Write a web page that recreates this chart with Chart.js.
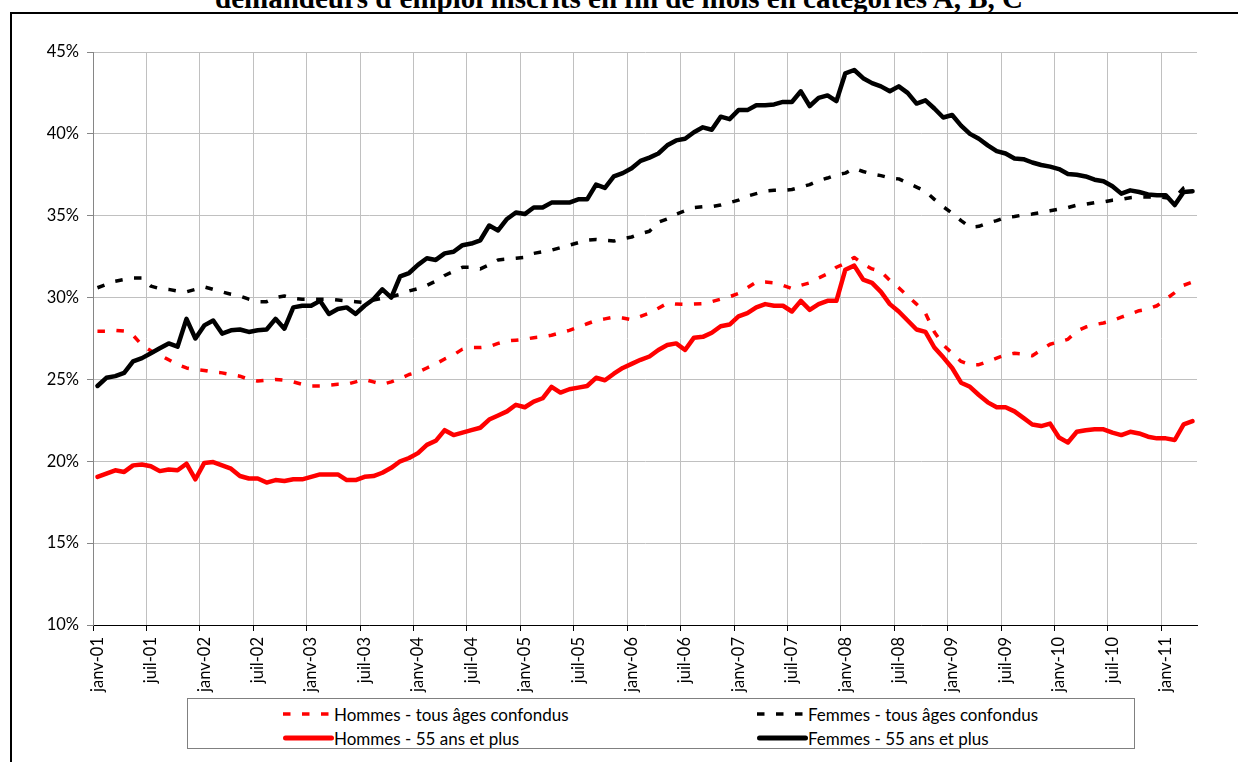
<!DOCTYPE html>
<html>
<head>
<meta charset="utf-8">
<script src="https://cdn.jsdelivr.net/npm/chart.js@4/dist/chart.umd.min.js"></script>
<style>
    body { margin: 0; background: #fff; overflow: hidden; }
    #wrap { position: relative; width: 1238px; height: 762px; overflow: hidden; }
    #title {
        position: absolute; left: 0; top: -16px; width: 1238px; text-align: center;
        font: bold 29px "Liberation Serif", "Times New Roman", serif; line-height: 29px; color: #000;
        white-space: nowrap;
    }
    #frame {
        position: absolute; left: 10px; top: 12px; width: 1400px; height: 900px;
        border-left: 2px solid #000; border-top: 2px solid #000;
    }
    #chart { position: absolute; left: 0; top: 0; }
    #legend {
        position: absolute; left: 187px; top: 698px; width: 946px; height: 49px;
        border: 1px solid #808080; background: #fff;
    }
    .item {
        position: absolute; display: flex; align-items: center; height: 20px;
        font: 17px Lato, sans-serif; color: #000; white-space: nowrap;
    }
    .item svg { display: block; margin-right: 0; }
</style>
</head>
<body>
<div id="wrap">
    <div id="frame"></div>
    <div id="title">demandeurs d'emploi inscrits en fin de mois en catégories A, B, C</div>
    <canvas id="chart" width="1238" height="762"></canvas>
    <div id="legend"></div>
</div>
<script>
const monthNames = ["janv", "févr", "mars", "avr", "mai", "juin", "juil", "août", "sept", "oct", "nov", "déc"];
const years = ["01", "02", "03", "04", "05", "06", "07", "08", "09", "10", "11"];
const monthCount = 124; // janv-01 .. avr-11

const yTicks = [10, 15, 20, 25, 30, 35, 40, 45];

const seriesNames = [
    "Hommes - tous âges confondus",
    "Femmes - tous âges confondus",
    "Hommes - 55 ans et plus",
    "Femmes - 55 ans et plus"
];

const hommesTous = [
    27.95, 27.95, 28.0, 27.95, 27.7, 27.1, 26.75, 26.5, 26.2, 25.9,
    25.7, 25.6, 25.55, 25.45, 25.4, 25.3, 25.2, 25.0, 24.9, 24.95,
    25.0, 24.95, 24.85, 24.7, 24.6, 24.6, 24.65, 24.7, 24.7, 24.85,
    25.0, 24.85, 24.7, 24.85, 25.05, 25.3, 25.45, 25.7, 25.95, 26.25,
    26.5, 26.85, 26.95, 26.95, 27.0, 27.2, 27.35, 27.4, 27.45, 27.55,
    27.6, 27.7, 27.85, 28.0, 28.2, 28.4, 28.6, 28.7, 28.8, 28.75,
    28.65, 28.85, 29.05, 29.35, 29.65, 29.6, 29.58, 29.6, 29.62, 29.75,
    29.9, 30.05, 30.25, 30.6, 30.95, 30.95, 30.9, 30.75, 30.55, 30.75,
    30.9, 31.2, 31.45, 31.85, 32.1, 32.45, 32.05, 31.75, 31.6, 31.05,
    30.6, 30.1, 29.6, 29.05, 27.9, 27.1, 26.6, 26.1, 25.9, 25.9,
    26.1, 26.3, 26.5, 26.6, 26.55, 26.45, 26.8, 27.15, 27.3, 27.45,
    27.95, 28.2, 28.35, 28.45, 28.6, 28.8, 29.0, 29.2, 29.3, 29.5,
    29.9, 30.3, 30.75, 30.95
];

const femmesTous = [
    30.6, 30.8, 31.0, 31.1, 31.2, 31.2, 30.7, 30.55, 30.5, 30.4,
    30.35, 30.5, 30.65, 30.5, 30.35, 30.2, 30.1, 29.9, 29.75, 29.75,
    30.0, 30.1, 29.95, 29.9, 29.9, 29.9, 29.9, 29.85, 29.8, 29.75,
    29.7, 29.85, 29.95, 30.05, 30.2, 30.4, 30.55, 30.75, 31.0, 31.35,
    31.6, 31.85, 31.85, 31.75, 32.0, 32.3, 32.35, 32.4, 32.45, 32.7,
    32.8, 32.9, 33.05, 33.2, 33.35, 33.5, 33.55, 33.5, 33.45, 33.6,
    33.7, 33.9, 34.05, 34.6, 34.8, 35.1, 35.3, 35.5, 35.55, 35.55,
    35.65, 35.8, 35.95, 36.2, 36.35, 36.5, 36.55, 36.55, 36.6, 36.75,
    36.9, 37.15, 37.3, 37.5, 37.6, 37.9, 37.7, 37.55, 37.45, 37.3,
    37.25, 37.0, 36.75, 36.5, 36.0, 35.55, 35.15, 34.7, 34.3, 34.35,
    34.55, 34.7, 34.9, 34.95, 35.05, 35.1, 35.2, 35.3, 35.4, 35.5,
    35.65, 35.7, 35.8, 35.85, 35.95, 36.0, 36.1, 36.15, 36.15, 36.15,
    36.1, 36.1, 36.7, 36.95
];

const hommes55 = [
    19.05, 19.25, 19.45, 19.35, 19.75, 19.8, 19.7, 19.4, 19.5, 19.45,
    19.85, 18.9, 19.9, 19.95, 19.75, 19.55, 19.1, 18.95, 18.95, 18.7,
    18.85, 18.8, 18.9, 18.9, 19.05, 19.2, 19.2, 19.2, 18.85, 18.85,
    19.05, 19.1, 19.3, 19.6, 20.0, 20.2, 20.5, 21.0, 21.25, 21.9,
    21.6, 21.75, 21.9, 22.05, 22.55, 22.8, 23.05, 23.45, 23.3, 23.65,
    23.85, 24.55, 24.2, 24.4, 24.5, 24.6, 25.1, 24.95, 25.35, 25.7,
    25.95, 26.2, 26.4, 26.8, 27.1, 27.2, 26.8, 27.55, 27.6, 27.85,
    28.25, 28.35, 28.85, 29.05, 29.4, 29.6, 29.5, 29.5, 29.15, 29.8,
    29.25, 29.6, 29.8, 29.8, 31.7, 31.95, 31.1, 30.9, 30.35, 29.6,
    29.15, 28.6, 28.05, 27.9, 26.95, 26.35, 25.7, 24.8, 24.55, 24.05,
    23.6, 23.3, 23.3, 23.05, 22.65, 22.25, 22.15, 22.3, 21.45, 21.15,
    21.8, 21.9, 21.95, 21.95, 21.75, 21.6, 21.8, 21.7, 21.5, 21.4,
    21.4, 21.3, 22.25, 22.45
];

const femmes55 = [
    24.6, 25.1, 25.2, 25.4, 26.1, 26.3, 26.6, 26.9, 27.2, 27.0,
    28.7, 27.5, 28.3, 28.6, 27.8, 28.0, 28.05, 27.9, 28.0, 28.05,
    28.7, 28.1, 29.4, 29.5, 29.5, 29.8, 29.0, 29.3, 29.4, 29.0,
    29.5, 29.9, 30.5, 30.0, 31.3, 31.5, 32.0, 32.4, 32.3, 32.7,
    32.8, 33.2, 33.3, 33.5, 34.4, 34.1, 34.8, 35.2, 35.1, 35.5,
    35.5, 35.8, 35.8, 35.8, 36.0, 36.0, 36.9, 36.7, 37.4, 37.6,
    37.9, 38.35, 38.55, 38.8, 39.3, 39.6, 39.7, 40.1, 40.4, 40.25,
    41.05, 40.9, 41.45, 41.45, 41.75, 41.75, 41.8, 41.95, 41.95, 42.6,
    41.7, 42.2, 42.35, 42.0, 43.7, 43.9, 43.4, 43.1, 42.9, 42.6,
    42.9, 42.5, 41.85, 42.05, 41.55, 41.0, 41.15, 40.5, 40.0, 39.7,
    39.3, 38.95, 38.8, 38.5, 38.45, 38.25, 38.1, 38.0, 37.85, 37.55,
    37.5, 37.4, 37.2, 37.1, 36.8, 36.35, 36.55, 36.45, 36.3, 36.25,
    36.25, 35.65, 36.45, 36.5
];

const monthLabels = [];
for (let i = 0; i < monthCount; i++) {
    monthLabels.push(monthNames[i % 12] + "-" + years[Math.floor(i / 12)]);
}

const seriesData = [hommesTous, femmesTous, hommes55, femmes55];
const seriesColors = ["#ff0000", "#000000", "#ff0000", "#000000"];
const seriesDashed = [true, true, false, false];
const seriesOrder = [3, 2, 1, 0];
const dashPattern = [7.5, 11.5];

const axisFont = { family: "Lato", size: 16.5 };

const datasets = seriesData.map((values, i) => ({
    label: seriesNames[i],
    data: values,
    borderColor: seriesColors[i],
    backgroundColor: seriesColors[i],
    borderWidth: seriesDashed[i] ? 3.5 : 4.5,
    borderDash: seriesDashed[i] ? dashPattern : [],
    borderCapStyle: seriesDashed[i] ? "butt" : "round",
    borderJoinStyle: "round",
    pointRadius: 0,
    tension: 0,
    fill: false,
    order: seriesOrder[i]
}));

new Chart(document.getElementById("chart"), {
    type: "line",
    data: { labels: monthLabels, datasets: datasets },
    options: {
        responsive: false,
        animation: false,
        devicePixelRatio: 1,
        layout: { padding: { left: 0, top: 52, right: 41, bottom: 67 } },
        plugins: {
            legend: { display: false },
            tooltip: { enabled: false },
            title: { display: false }
        },
        scales: {
            x: {
                type: "category",
                offset: true,
                grid: {
                    offset: true,
                    color: ctx => (ctx.index % 6 === 0 ? "#c0c0c0" : "rgba(0,0,0,0)"),
                    tickColor: ctx => (ctx.index % 6 === 0 ? "#000000" : "rgba(0,0,0,0)"),
                    tickLength: 6,
                    lineWidth: 1
                },
                border: { color: "#000000", width: 1 },
                ticks: {
                    autoSkip: false,
                    minRotation: 90,
                    maxRotation: 90,
                    padding: 6,
                    color: "#000000",
                    font: axisFont,
                    callback: function (value, index) {
                        return index % 6 === 0 ? this.getLabelForValue(value) : "";
                    }
                },
                afterFit: scale => { scale.height = 70; }
            },
            y: {
                min: yTicks[0],
                max: yTicks[yTicks.length - 1],
                afterBuildTicks: scale => { scale.ticks = yTicks.map(v => ({ value: v })); },
                grid: { color: "#c0c0c0", tickColor: "#868686", tickLength: 6, lineWidth: 1 },
                border: { color: "#868686", width: 1 },
                ticks: {
                    padding: 8,
                    color: "#000000",
                    font: axisFont,
                    callback: v => v + "%"
                },
                afterFit: scale => { scale.width = 93; }
            }
        }
    }
});

// legend, two columns like the original
const legendBox = document.getElementById("legend");
const legendSpots = [
    { left: 95, top: 5 },
    { left: 569, top: 5 },
    { left: 95, top: 29 },
    { left: 569, top: 29 }
];

seriesNames.forEach((name, i) => {
    const item = document.createElement("div");
    item.className = "item";
    item.style.left = legendSpots[i].left + "px";
    item.style.top = legendSpots[i].top + "px";

    const ns = "http://www.w3.org/2000/svg";
    const svg = document.createElementNS(ns, "svg");
    svg.setAttribute("width", "51");
    svg.setAttribute("height", "10");
    const line = document.createElementNS(ns, "line");
    line.setAttribute("y1", "5");
    line.setAttribute("y2", "5");
    line.setAttribute("stroke", seriesColors[i]);
    if (seriesDashed[i]) {
        line.setAttribute("x1", "0");
        line.setAttribute("x2", "46");
        line.setAttribute("stroke-width", "3.5");
        line.setAttribute("stroke-dasharray", dashPattern.join(" "));
    } else {
        line.setAttribute("x1", "2.5");
        line.setAttribute("x2", "48.5");
        line.setAttribute("stroke-width", "5");
        line.setAttribute("stroke-linecap", "round");
    }
    svg.appendChild(line);
    item.appendChild(svg);

    const text = document.createElement("span");
    text.textContent = name;
    item.appendChild(text);

    legendBox.appendChild(item);
});
</script>
</body>
</html>
